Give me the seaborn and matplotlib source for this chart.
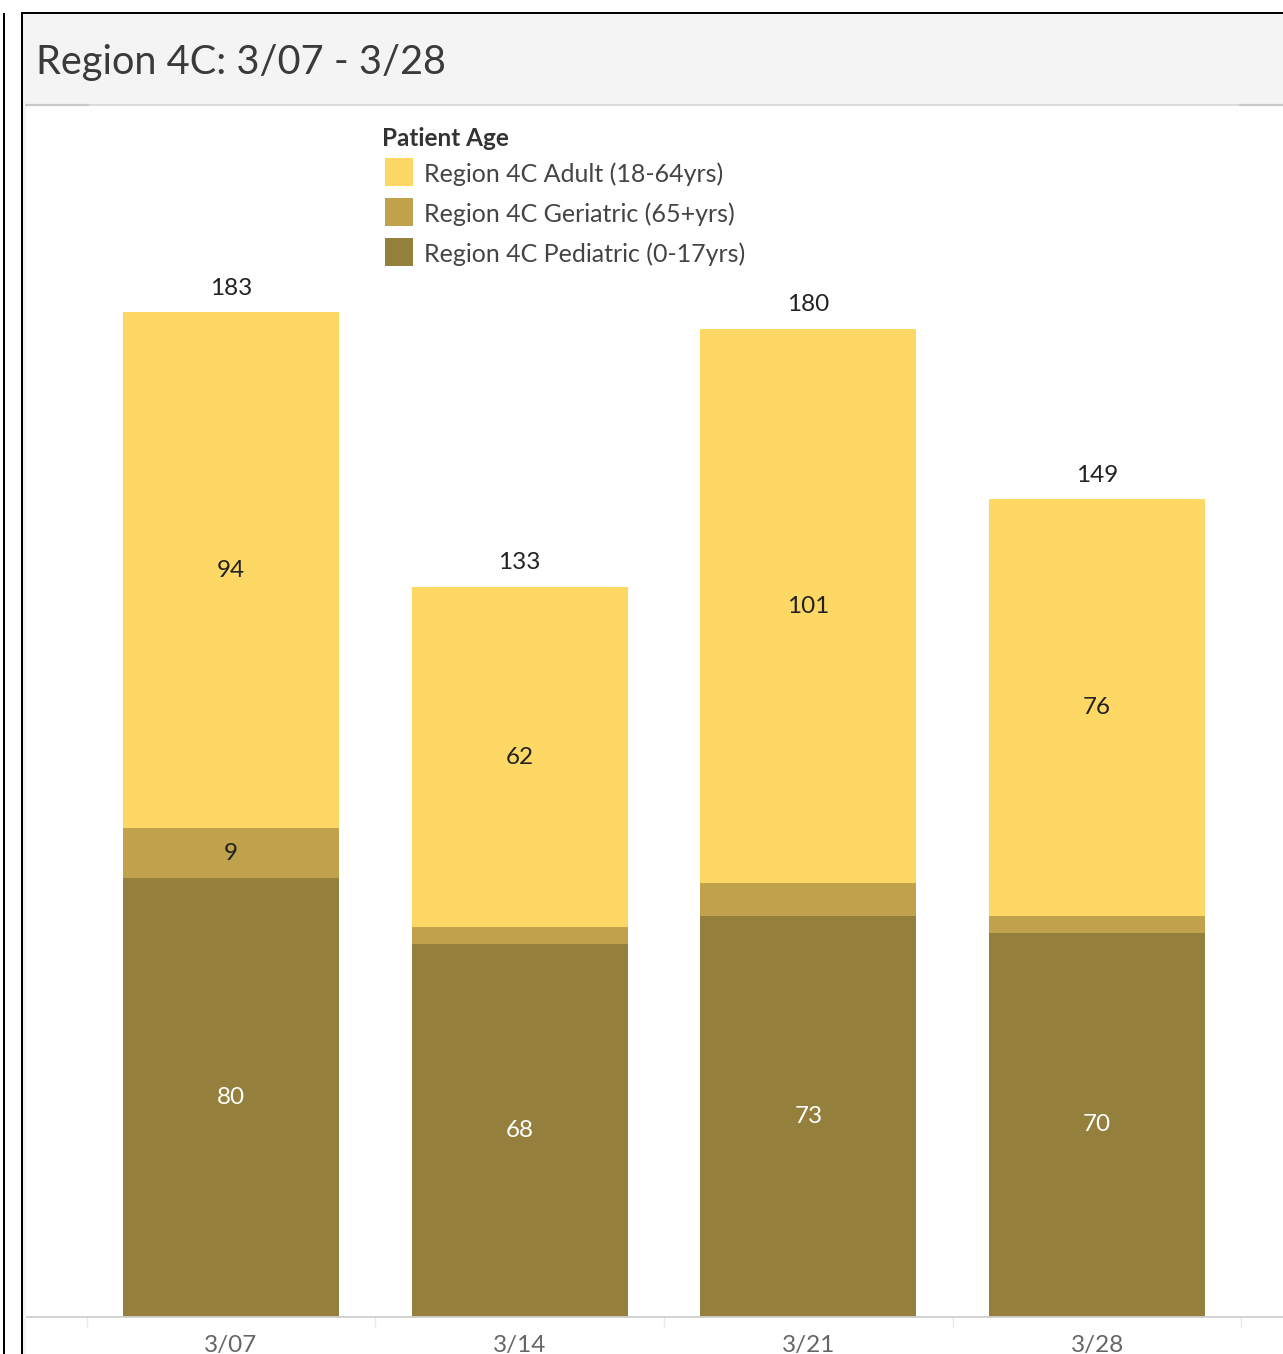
import matplotlib
matplotlib.use("Agg")
import matplotlib.pyplot as plt
from matplotlib.patches import Rectangle
from matplotlib.lines import Line2D
import seaborn as sns
import numpy as np
import pandas as pd

# Weekly patient counts by age group
weeks = ["3/07", "3/14", "3/21", "3/28"]
pediatric = [80, 68, 73, 70]
geriatric = [9, 3, 6, 3]
adult = [94, 62, 101, 76]

series_names = [
    "Region 4C Adult (18-64yrs)",
    "Region 4C Geriatric (65+yrs)",
    "Region 4C Pediatric (0-17yrs)",
]
colors = ["#FED864", "#BFA24B", "#947F3C"]
title = "Region 4C: 3/07 - 3/28"
legend_title = "Patient Age"

W, H = 1283, 1354
FONT = "Lato"

sns.set_theme(style="white")
plt.rcParams["font.family"] = [FONT, "DejaVu Sans"]

fig = plt.figure(figsize=(W / 100, H / 100), dpi=100)
fig.patch.set_facecolor("white")


def fx(x):
    return x / W


def fy(y):
    return 1 - y / H


# Dashboard framing: neighbouring panel edge, panel border, header band
fig.patches.append(Rectangle((fx(3), 0), fx(2), fy(13), transform=fig.transFigure,
                             facecolor="black", edgecolor="none", zorder=0))
fig.patches.append(Rectangle((fx(21), 0), fx(2), fy(12), transform=fig.transFigure,
                             facecolor="black", edgecolor="none", zorder=0))
fig.patches.append(Rectangle((fx(21), fy(14)), 1 - fx(21), 2 / H,
                             transform=fig.transFigure, facecolor="black",
                             edgecolor="none", zorder=0))
fig.patches.append(Rectangle((fx(23), fy(104)), 1 - fx(23), (104 - 14) / H,
                             transform=fig.transFigure, facecolor="#F4F4F4",
                             edgecolor="none", zorder=0))
fig.patches.append(Rectangle((fx(23), 0), fx(3), fy(104), transform=fig.transFigure,
                             facecolor="#F4F4F4", edgecolor="none", zorder=0))
fig.lines.append(Line2D([fx(26), 1], [fy(104.5), fy(104.5)], transform=fig.transFigure,
                        color="#D4D4D4", linewidth=1.2, zorder=1))
fig.lines.append(Line2D([fx(26), fx(88)], [fy(104.5), fy(104.5)], transform=fig.transFigure,
                        color="#C8C8C8", linewidth=1.6, zorder=1))
fig.lines.append(Line2D([fx(1240), 1], [fy(104.5), fy(104.5)], transform=fig.transFigure,
                        color="#C8C8C8", linewidth=1.6, zorder=1))

fig.text(fx(36), fy(74), title, fontsize=28.6, color="#3A3A3A", va="baseline", ha="left",
         family=[FONT, "DejaVu Sans"])

# Plot area
ax = fig.add_axes([fx(26), fy(1317), fx(1283) - fx(26), (1317 - 105) / H])
ax.set_facecolor("white")

df = pd.DataFrame({"week": weeks, "pediatric": pediatric,
                   "geriatric": geriatric, "adult": adult})
df["ped_ger"] = df["pediatric"] + df["geriatric"]
df["total"] = df["ped_ger"] + df["adult"]

# Stacked bars: draw cumulative totals back to front
for col, c in [("total", colors[0]), ("ped_ger", colors[1]), ("pediatric", colors[2])]:
    sns.barplot(data=df, x="week", y=col, order=weeks, color=c, saturation=1,
                width=0.748, linewidth=0, errorbar=None, ax=ax)

ax.set_xlim(-0.710, 3.644)
ax.set_ylim(0, 220.8)
ax.set_xlabel("")
ax.set_ylabel("")
ax.set_yticks([])

for s in ["left", "right", "top"]:
    ax.spines[s].set_visible(False)
ax.spines["bottom"].set_color("#D0D0D0")
ax.spines["bottom"].set_linewidth(1.3)

ax.set_xticks(range(len(weeks)))
ax.set_xticklabels(weeks)
ax.set_xticks(np.arange(-0.5, len(weeks), 1.0), minor=True)
ax.tick_params(axis="x", which="major", length=0, pad=13, labelsize=17.5, labelcolor="#666666")
ax.tick_params(axis="x", which="minor", length=7.5, width=1, color="#E8E8E8",
               direction="out", bottom=True)
for lbl in ax.get_xticklabels():
    lbl.set_family([FONT, "DejaVu Sans"])

# Value labels
for i, row in df.iterrows():
    ax.annotate(f"{row['total']}", (i, row["total"]), xytext=(0, 17.3),
                textcoords="offset points", ha="center", va="center",
                fontsize=17.5, color="#222222")
    ax.text(i, row["ped_ger"] + row["adult"] / 2, f"{row['adult']}", ha="center",
            va="center", fontsize=17.5, color="#222222")
    if row["geriatric"] >= 8:
        ax.text(i, row["pediatric"] + row["geriatric"] / 2, f"{row['geriatric']}",
                ha="center", va="center", fontsize=17.5, color="#222222")
    ax.text(i, row["pediatric"] / 2, f"{row['pediatric']}", ha="center",
            va="center", fontsize=17.5, color="white")

# Legend
fig.text(fx(382), fy(139), legend_title, fontsize=17.5, fontweight="bold", color="#333333",
         ha="left", va="center")
for k, (name, c) in enumerate(zip(series_names, colors)):
    y0 = 158 + 40 * k
    fig.patches.append(Rectangle((fx(385), fy(y0 + 28)), fx(28), 28 / H,
                                 transform=fig.transFigure, facecolor=c,
                                 edgecolor="none", zorder=3))
    fig.text(fx(424), fy(y0 + 16), name, fontsize=18, color="#444444",
             ha="left", va="center")

fig.savefig("out.png", dpi=100, facecolor="white")
